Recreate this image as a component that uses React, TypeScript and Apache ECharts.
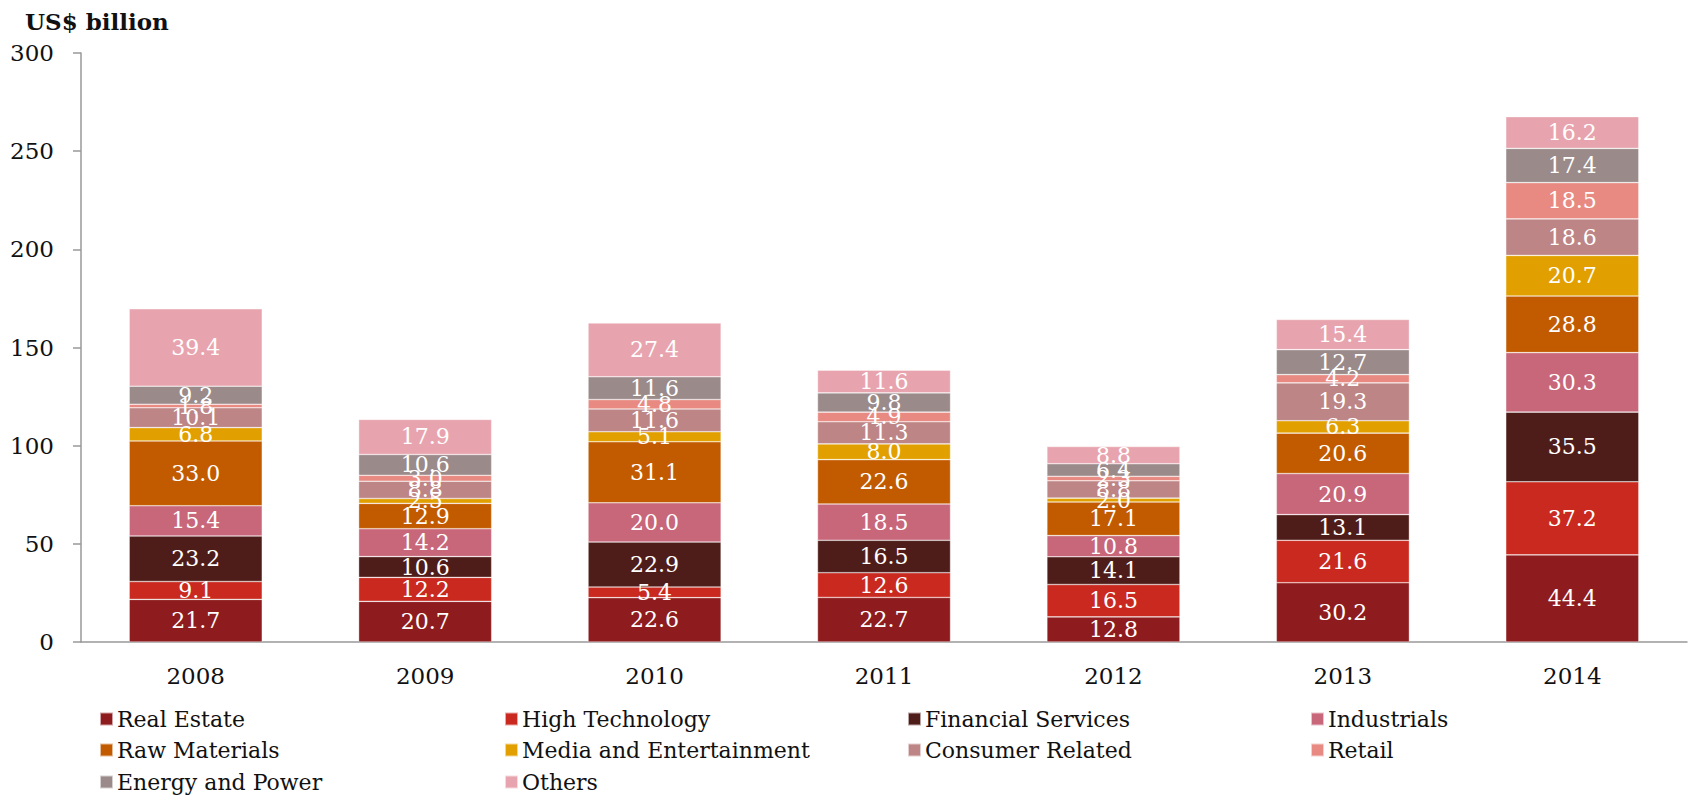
import React, { useEffect, useRef } from "react";
import * as echarts from "echarts";

const years = ["2008", "2009", "2010", "2011", "2012", "2013", "2014"];
const seriesNames = [
  "Real Estate",
  "High Technology",
  "Financial Services",
  "Industrials",
  "Raw Materials",
  "Media and Entertainment",
  "Consumer Related",
  "Retail",
  "Energy and Power",
  "Others",
];
const realEstate = [21.7, 20.7, 22.6, 22.7, 12.8, 30.2, 44.4];
const highTechnology = [9.1, 12.2, 5.4, 12.6, 16.5, 21.6, 37.2];
const financialServices = [23.2, 10.6, 22.9, 16.5, 14.1, 13.1, 35.5];
const industrials = [15.4, 14.2, 20.0, 18.5, 10.8, 20.9, 30.3];
const rawMaterials = [33.0, 12.9, 31.1, 22.6, 17.1, 20.6, 28.8];
const mediaEntertainment = [6.8, 2.5, 5.1, 8.0, 2.0, 6.3, 20.7];
const consumerRelated = [10.1, 8.8, 11.6, 11.3, 8.8, 19.3, 18.6];
const retail = [1.8, 3.0, 4.8, 4.9, 2.3, 4.2, 18.5];
const energyPower = [9.2, 10.6, 11.6, 9.8, 6.4, 12.7, 17.4];
const others = [39.4, 17.9, 27.4, 11.6, 8.8, 15.4, 16.2];
const yTicks = { min: 0, max: 300, interval: 50 };

const allValues = [
  realEstate,
  highTechnology,
  financialServices,
  industrials,
  rawMaterials,
  mediaEntertainment,
  consumerRelated,
  retail,
  energyPower,
  others,
];
const colors = [
  "#8E1B1D",
  "#C9291F",
  "#4F1D19",
  "#C8667A",
  "#C25B00",
  "#E2A000",
  "#BD8585",
  "#E88A82",
  "#9A8A8A",
  "#E8A4AE",
];

const FONT = '"DejaVu Serif", Georgia, serif';

export default function App() {
  const ref = useRef<HTMLDivElement>(null);
  useEffect(() => {
    document.body.style.margin = "0";
    if (!ref.current) return;
    const chart = echarts.init(ref.current, null, { renderer: "svg" });
    const legendCols = [99, 504, 907, 1310];
    const legendRows = [708, 739, 771];
    const legends = seriesNames.map((name, i) => ({
      data: [name],
      left: legendCols[i % 4],
      top: legendRows[Math.floor(i / 4)],
      itemWidth: 13,
      itemHeight: 13,
      itemGap: 6,
      icon: "rect",
      padding: 0,
      selectedMode: false,
      textStyle: { fontFamily: FONT, fontSize: 22, color: "#111", padding: [0, 0, 0, -1] },
    }));
    chart.setOption({
      animation: false,
      textStyle: { fontFamily: FONT },
      title: {
        text: "US$ billion",
        left: 20,
        top: 5,
        textStyle: { fontFamily: FONT, fontSize: 23, fontWeight: "bold", color: "#111" },
      },
      legend: legends,
      grid: { left: 81, right: 3, top: 53, bottom: 154, containLabel: false },
      xAxis: {
        type: "category",
        data: years,
        axisLine: { show: true, lineStyle: { color: "#999", width: 1.5 } },
        axisTick: { show: false },
        axisLabel: { fontFamily: FONT, fontSize: 23, color: "#111", margin: 22 },
      },
      yAxis: {
        type: "value",
        min: yTicks.min,
        max: yTicks.max,
        interval: yTicks.interval,
        splitLine: { show: false },
        axisLine: { show: true, lineStyle: { color: "#999", width: 1.5 } },
        axisTick: { show: true, length: 8, lineStyle: { color: "#999", width: 1.5 } },
        axisLabel: { fontFamily: FONT, fontSize: 23, color: "#111", margin: 27 },
      },
      series: seriesNames.map((name, i) => ({
        name,
        type: "bar",
        stack: "total",
        barCategoryGap: "42%",
        data: allValues[i],
        itemStyle: { color: colors[i], borderColor: "rgba(255,255,255,0.6)", borderWidth: 0.6 },
        label: {
          show: true,
          position: "inside",
          color: "#fff",
          fontFamily: FONT,
          fontSize: 22,
          formatter: (p: any) => Number(p.value).toFixed(1),
        },
      })),
    });
    return () => chart.dispose();
  }, []);
  return <div ref={ref} style={{ width: 1690, height: 796 }} />;
}
